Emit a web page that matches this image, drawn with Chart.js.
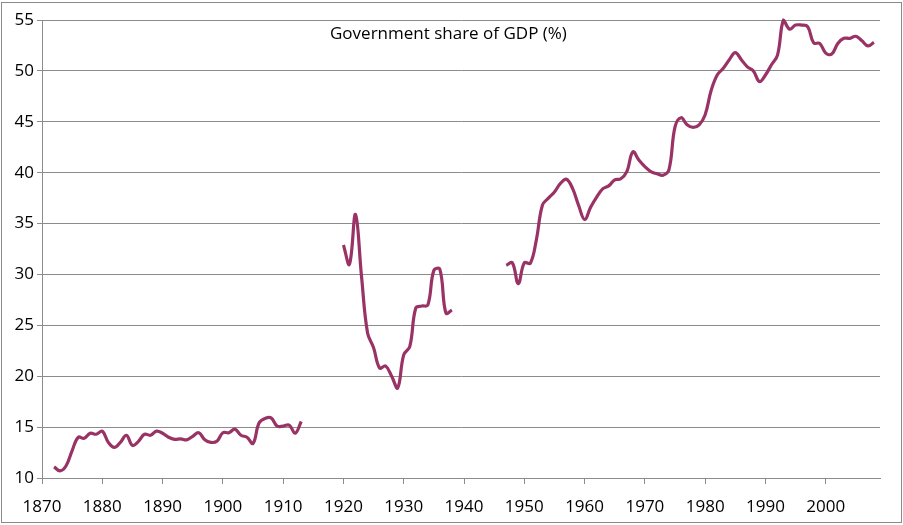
<!DOCTYPE html>
<html>
<head>
<meta charset="utf-8">
<script src="https://cdn.jsdelivr.net/npm/chart.js@4"></script>
<style>
    html, body { margin: 0; padding: 0; background: #fff; }
    .wrap { position: relative; width: 903px; height: 525px; }
    .frame { position: absolute; left: 1px; top: 2px; width: 899px; height: 519px; border: 1px solid #8a8a8a; pointer-events: none; }
    canvas { position: absolute; left: 0; top: 0; }
</style>
</head>
<body>
<div class="wrap">
    <canvas id="govChart" width="903" height="525"></canvas>
    <div class="frame"></div>
</div>
<script>
    'use strict';

    var titleText = 'Government share of GDP (%)';

    // 1872-1913
    var prewarStart = 1872;
    var prewarShare = [
        11.1, 10.7, 11.2, 12.7, 14.0, 13.9, 14.4, 14.3, 14.6, 13.5,
        13.0, 13.5, 14.2, 13.2, 13.6, 14.3, 14.2, 14.6, 14.4, 14.0,
        13.8, 13.85, 13.75, 14.1, 14.45, 13.75, 13.5, 13.6, 14.45, 14.45,
        14.8, 14.2, 14.0, 13.4, 15.4, 15.85, 15.9, 15.1, 15.1, 15.2,
        14.4, 15.55
    ];

    // 1920-1938
    var interwarStart = 1920;
    var interwarShare = [
        32.9, 31.0, 35.9, 29.8, 24.25, 22.8, 20.8, 21.0, 20.0, 18.85,
        22.1, 22.9, 26.7, 26.9, 27.0, 30.4, 30.5, 26.2, 26.5
    ];

    // 1947-2008
    var postwarStart = 1947;
    var postwarShare = [
        30.9, 31.15, 29.1, 31.15, 31.1, 33.4, 36.8, 37.5, 38.1, 38.95,
        39.35, 38.45, 36.8, 35.4, 36.6, 37.6, 38.4, 38.7, 39.3, 39.4,
        40.1, 42.05, 41.25, 40.6, 40.1, 39.9, 39.75, 40.3, 44.5, 45.4,
        44.7, 44.45, 44.7, 45.7, 48.1, 49.6, 50.25, 51.1, 51.8, 51.1,
        50.4, 50.0, 48.95, 49.6, 50.6, 51.55, 55.0, 54.1, 54.5, 54.5,
        54.35, 52.75, 52.7, 51.75, 51.65, 52.7, 53.2, 53.2, 53.4, 52.95,
        52.45, 52.8
    ];

    var xMin = 1870, xMax = 2009, xStep = 10;
    var yMin = 10, yMax = 55, yStep = 5;

    function toPoints(start, values) {
        return values.map(function (v, i) { return { x: start + i, y: v }; });
    }

    // null points break the line between the three periods
    var points = [].concat(
        toPoints(prewarStart, prewarShare),
        [{ x: 1916, y: null }],
        toPoints(interwarStart, interwarShare),
        [{ x: 1942, y: null }],
        toPoints(postwarStart, postwarShare)
    );

    var gridGrey = '#8c8c8c';
    var font = "'Open Sans', 'Liberation Sans', sans-serif";

    var innerTitle = {
        id: 'innerTitle',
        afterDraw: function (chart) {
            var a = chart.chartArea;
            var ctx = chart.ctx;
            ctx.save();
            ctx.font = '17px ' + font;
            ctx.fillStyle = '#000';
            ctx.textAlign = 'center';
            ctx.textBaseline = 'middle';
            ctx.fillText(titleText, a.left + (a.right - a.left) * 0.485, a.top + 14);
            ctx.restore();
        }
    };

    new Chart(document.getElementById('govChart').getContext('2d'), {
        type: 'line',
        data: {
            datasets: [{
                label: titleText,
                data: points,
                borderColor: '#993366',
                borderWidth: 3.2,
                pointRadius: 0,
                tension: 0.4,
                spanGaps: false,
                clip: false
            }]
        },
        options: {
            responsive: false,
            animation: false,
            layout: { padding: { top: 20, right: 23, bottom: 0, left: 0 } },
            plugins: {
                legend: { display: false },
                tooltip: { enabled: false }
            },
            scales: {
                x: {
                    type: 'linear',
                    min: xMin,
                    max: xMax,
                    afterFit: function (s) { s.height = 47; },
                    ticks: {
                        stepSize: xStep,
                        includeBounds: false,
                        color: '#000',
                        padding: 13,
                        maxRotation: 0,
                        font: { family: font, size: 17 },
                        callback: function (v) { return String(v); }
                    },
                    grid: { display: true, drawOnChartArea: false, drawTicks: true, tickLength: 6, color: gridGrey },
                    border: { display: true, color: gridGrey }
                },
                y: {
                    min: yMin,
                    max: yMax,
                    afterFit: function (s) { s.width = 42; },
                    ticks: {
                        stepSize: yStep,
                        color: '#000',
                        padding: 3,
                        font: { family: font, size: 17 }
                    },
                    grid: { color: gridGrey, tickLength: 5 },
                    border: { display: true, color: gridGrey }
                }
            }
        },
        plugins: [innerTitle]
    });
</script>
</body>
</html>
